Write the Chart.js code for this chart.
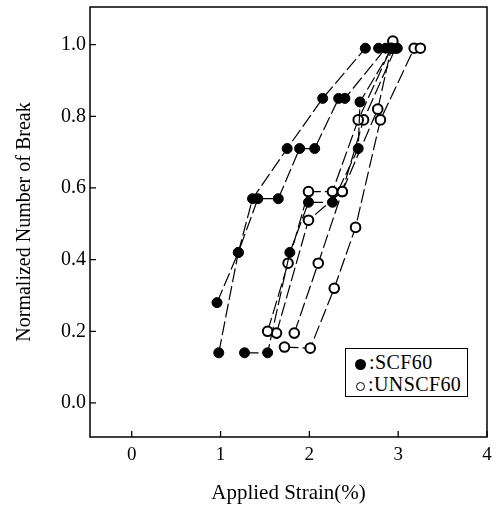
<!DOCTYPE html>
<html>
<head>
<meta charset="utf-8">
<script src="https://cdn.jsdelivr.net/npm/chart.js@4.4.0/dist/chart.umd.min.js"></script>
<style>
  html, body { margin: 0; padding: 0; background: #fff; }
  #wrap { position: relative; width: 498px; height: 507px; }
  #legend {
    position: absolute; left: 345px; top: 348px; width: 121px; height: 47px;
    border: 1px solid #000; background: #fff;
    font-family: "Liberation Serif", serif; font-size: 20px; color: #000;
  }
  #legend .row { position: absolute; left: 9px; height: 22px; line-height: 22px; white-space: nowrap; letter-spacing: 0.4px; }
  #legend .dot { display: inline-block; vertical-align: middle; border-radius: 50%; margin-right: 3px; }
</style>
</head>
<body>
<div id="wrap">
  <canvas id="chart" width="498" height="507"></canvas>
  <div id="legend">
    <div class="row" style="top:2px"><span class="dot" style="width:11px;height:11px;background:#000"></span>:SCF60</div>
    <div class="row" style="top:24px"><span class="dot" style="width:7px;height:7px;border:1.5px solid #000;margin-left:1px"></span>:UNSCF60</div>
  </div>
</div>
<script>
// axis ticks
const xTicks = [0, 1, 2, 3, 4];
const yTicks = [0, 0.2, 0.4, 0.6, 0.8, 1.0];

// SCF60 specimens (filled)  [strain %, normalized breaks]
const scfA = [[0.96, 0.28], [1.20, 0.42], [1.36, 0.57], [1.75, 0.71], [2.15, 0.85], [2.63, 0.99], [2.78, 0.99]];
const scfB = [[0.98, 0.14], [1.20, 0.42], [1.42, 0.57], [1.65, 0.57], [1.89, 0.71], [2.06, 0.71], [2.33, 0.85], [2.40, 0.85], [2.86, 0.99]];
const scfC = [[1.27, 0.14], [1.53, 0.14], [1.78, 0.42], [1.99, 0.56], [2.26, 0.56], [2.55, 0.71], [2.57, 0.84], [2.93, 0.99], [2.99, 0.99]];

// UNSCF60 specimens (open)
const unA = [[1.53, 0.20], [1.76, 0.39], [1.99, 0.59], [2.26, 0.59], [2.55, 0.79], [2.92, 0.99]];
const unB = [[1.63, 0.195], [1.99, 0.51], [2.37, 0.59], [2.77, 0.82], [2.94, 1.01]];
const unC = [[1.72, 0.156], [2.01, 0.153], [2.28, 0.32], [2.52, 0.49], [2.80, 0.79], [3.18, 0.99], [3.25, 0.99]];
const unD = [[1.83, 0.195], [2.10, 0.39], [2.37, 0.59], [2.61, 0.79], [2.97, 0.99]];

const FONT = "'Liberation Serif', 'DejaVu Serif', serif";

function toPts(arr) {
    return arr.map(([x, y]) => ({ x, y }));
}

function series(arr, filled) {
    return {
        data: toPts(arr),
        showLine: true,
        borderColor: "#000",
        borderWidth: 1.2,
        borderDash: [14, 4],
        pointRadius: filled ? 5 : 4.8,
        pointBorderWidth: filled ? 1 : 2,
        pointBorderColor: "#000",
        pointBackgroundColor: filled ? "#000" : "#fff",
        pointHoverRadius: 5,
    };
}

// frame around the plot and inward tick marks
const framePlugin = {
    id: "frame",
    afterDraw(chart) {
        const { ctx, chartArea: a, scales } = chart;
        ctx.save();
        ctx.strokeStyle = "#000";
        ctx.lineWidth = 1.5;
        ctx.strokeRect(a.left, a.top, a.right - a.left, a.bottom - a.top);
        ctx.lineWidth = 1.3;
        ctx.beginPath();
        xTicks.forEach((v) => {
            const px = scales.x.getPixelForValue(v);
            ctx.moveTo(px, a.bottom);
            ctx.lineTo(px, a.bottom - 6);
        });
        yTicks.forEach((v) => {
            const py = scales.y.getPixelForValue(v);
            ctx.moveTo(a.left, py);
            ctx.lineTo(a.left + 6, py);
        });
        ctx.stroke();
        ctx.restore();
    },
};

new Chart(document.getElementById("chart"), {
    type: "scatter",
    data: {
        datasets: [
            series(scfA, true), series(scfB, true), series(scfC, true),
            series(unA, false), series(unB, false), series(unC, false), series(unD, false),
        ],
    },
    options: {
        responsive: false,
        animation: false,
        layout: { padding: { left: 0, right: 11, top: 5, bottom: 0 } },
        plugins: {
            legend: { display: false },
            tooltip: { enabled: false },
        },
        scales: {
            x: {
                type: "linear",
                min: -0.47,
                max: 4,
                afterBuildTicks: (s) => { s.ticks = xTicks.map((v) => ({ value: v })); },
                afterFit: (s) => { s.height = 70; s.paddingLeft = 0; s.paddingRight = 0; },
                grid: { display: false, drawTicks: false },
                border: { display: false },
                ticks: {
                    color: "#000",
                    padding: 7,
                    maxRotation: 0,
                    font: { family: FONT, size: 19 },
                    callback: (v) => String(v),
                },
                title: {
                    display: true,
                    text: "Applied Strain(%)",
                    color: "#000",
                    font: { family: FONT, size: 21 },
                    padding: { top: 0, bottom: 1 },
                },
            },
            y: {
                type: "linear",
                min: -0.095,
                max: 1.105,
                afterBuildTicks: (s) => { s.ticks = yTicks.map((v) => ({ value: v })); },
                afterFit: (s) => { s.width = 90; s.paddingTop = 0; s.paddingBottom = 0; },
                grid: { display: false, drawTicks: false },
                border: { display: false },
                ticks: {
                    color: "#000",
                    padding: 4,
                    font: { family: FONT, size: 20 },
                    callback: (v) => v.toFixed(1),
                },
                title: {
                    display: true,
                    text: "Normalized Number of Break",
                    color: "#000",
                    font: { family: FONT, size: 20 },
                    padding: { top: 13, bottom: 0 },
                },
            },
        },
    },
    plugins: [framePlugin],
});
</script>
</body>
</html>
